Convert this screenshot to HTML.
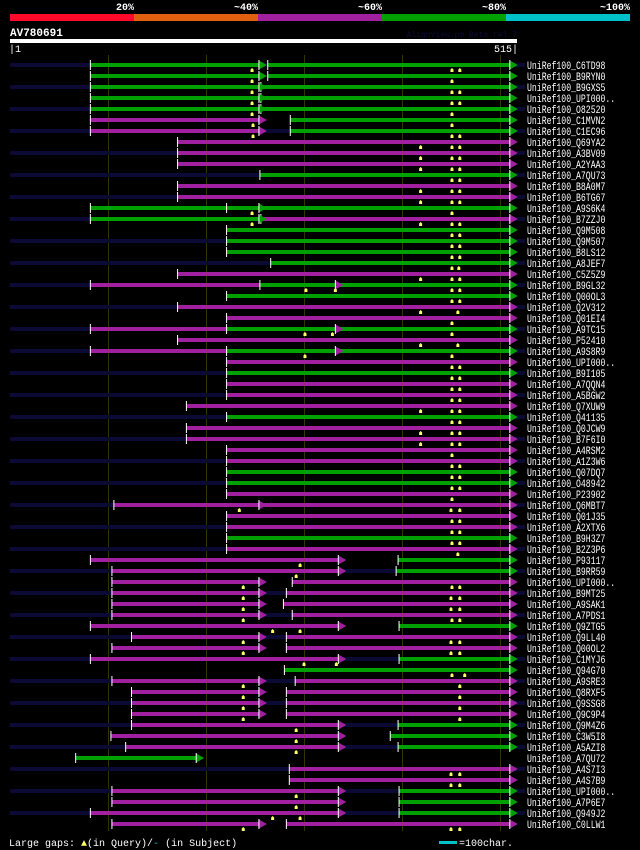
<!DOCTYPE html>
<html><head><meta charset="utf-8"><style>
html,body{margin:0;padding:0;background:#000;}
svg{display:block;}
text{font-family:"Liberation Mono","DejaVu Sans Mono",monospace;fill:#fff;}
</style></head><body>
<svg id="chart" width="640" height="850" viewBox="0 0 640 850" xmlns="http://www.w3.org/2000/svg">
<rect x="0" y="0" width="640" height="850" fill="#000"/>
<g>
<rect x="10" y="14" width="124" height="7" fill="#ff0a2a"/>
<rect x="134" y="14" width="124" height="7" fill="#e06010"/>
<rect x="258" y="14" width="124" height="7" fill="#a020a0"/>
<rect x="382" y="14" width="124" height="7" fill="#00a000"/>
<rect x="506" y="14" width="124" height="7" fill="#00c0c8"/>
<text x="134" y="10" font-size="10" font-weight="bold" text-anchor="end">20%</text>
<text x="258" y="10" font-size="10" font-weight="bold" text-anchor="end">~40%</text>
<text x="382" y="10" font-size="10" font-weight="bold" text-anchor="end">~60%</text>
<text x="506" y="10" font-size="10" font-weight="bold" text-anchor="end">~80%</text>
<text x="630" y="10" font-size="10" font-weight="bold" text-anchor="end">~100%</text>
</g>
<text x="10" y="36" font-size="11" font-weight="bold">AV780691</text>
<text x="517" y="37" font-size="8" text-anchor="end" style="fill:#0c0c38">AlignView.pm Beta rel.7</text>
<rect x="10" y="39" width="507" height="4" fill="#fff"/>
<text x="9" y="52" font-size="10">|1</text>
<text x="518" y="52" font-size="10" text-anchor="end">515|</text>
<g id="grid"></g>
<g id="rows"></g>
<text x="9" y="846" font-size="10">Large gaps: <tspan style="fill:#ffff66">▲</tspan>(in Query)/<tspan style="fill:#00c0c8">-</tspan> (in Subject)</text>
<rect x="439" y="841" width="18" height="3" fill="#00c0c8"/>
<text x="459" y="846" font-size="10">=100char.</text>
</svg>
<script>
var gridTicks = [100, 200, 300, 400, 500];
var names = ["C6TD98","B9RYN0","B9GXS5","UPI000..","O82520","C1MVN2","C1EC96","Q69YA2","A3BV09","A2YAA3","A7QU73","B8A0M7","B6TG67","A9S6K4","B7ZZJ0","Q9M508","Q9M507","B8LS12","A8JEF7","C5Z5Z9","B9GL32","Q00OL3","Q2V312","Q01EI4","A9TC15","P52410","A9S8R9","UPI000..","B9I105","A7QQN4","A5BGW2","Q7XUW9","Q41135","Q0JCW9","B7F6I0","A4RSM2","A1Z3W6","Q07DQ7","O48942","P23902","Q6MBT7","Q01J35","A2XTX6","B9H3Z7","B2Z3P6","P93117","B9RR59","UPI000..","B9MT25","A9SAK1","A7PDS1","Q9ZTG5","Q9LL40","Q00OL2","C1MYJ6","Q94G70","A9SRE3","Q8RXF5","Q9SSG8","Q9C9P4","Q9M4Z6","C3W5I8","A5AZI8","A7QU72","A4S7I3","A4S7B9","UPI000..","A7P6E7","Q949J2","C0LLW1"];
var segs = [
[[82,254,"g",1],[263,510,"g",1]],
[[82,254,"g",1],[263,510,"g",1]],
[[82,254,"g",1],[256,510,"g",1]],
[[82,254,"g",1],[256,510,"g",1]],
[[82,254,"g",1],[256,510,"g",1]],
[[82,254,"p",1],[286,510,"g",1]],
[[82,254,"p",1],[286,510,"g",1]],
[[171,510,"p",1]],[[171,510,"p",1]],[[171,510,"p",1]],
[[255,510,"g",1]],
[[171,510,"p",1]],[[171,510,"p",1]],
[[82,254,"g",1],[221,510,"g",1]],
[[82,254,"g",1],[256,510,"p",1]],
[[221,510,"g",1]],[[221,510,"g",1]],[[221,510,"g",1]],
[[266,510,"g",1]],
[[171,510,"p",1]],
[[82,255,"p",0],[255,510,"g",1]],
[[221,510,"g",1]],
[[171,510,"p",1]],
[[221,510,"p",1]],
[[82,221,"p",0],[221,510,"g",1]],
[[171,510,"p",1]],
[[82,221,"p",0],[221,510,"g",1]],
[[221,510,"p",1]],[[221,510,"g",1]],[[221,510,"p",1]],[[221,510,"p",1]],
[[180,510,"p",1]],
[[221,510,"g",1]],
[[180,510,"p",1]],[[180,510,"p",1]],
[[221,510,"p",1]],[[221,510,"p",1]],[[221,510,"g",1]],[[221,510,"g",1]],[[221,510,"p",1]],
[[106,510,"p",1]],
[[221,510,"p",1]],[[221,510,"p",1]],[[221,510,"g",1]],[[221,510,"p",1]],
[[82,335,"p",1],[396,510,"g",1]],
[[104,335,"p",1],[394,510,"g",1]],
[[104,254,"p",1],[288,510,"p",1]],
[[104,254,"p",1],[282,510,"p",1]],
[[104,254,"p",1],[279,510,"p",1]],
[[104,254,"p",1],[288,510,"p",1]],
[[82,335,"p",1],[397,510,"g",1]],
[[124,254,"p",1],[282,510,"p",1]],
[[104,254,"p",1],[282,510,"p",1]],
[[82,335,"p",1],[397,510,"g",1]],
[[280,510,"g",1]],
[[104,254,"p",1],[291,510,"p",1]],
[[124,254,"p",1],[282,510,"p",1]],
[[124,254,"p",1],[282,510,"p",1]],
[[124,254,"p",1],[282,510,"p",1]],
[[124,335,"p",1],[396,510,"g",1]],
[[103,335,"p",1],[388,510,"g",1]],
[[118,335,"p",1],[396,510,"g",1]],
[[67,190,"g",1]],
[[285,510,"p",1]],[[285,510,"p",1]],
[[104,335,"p",1],[397,510,"g",1]],
[[104,335,"p",1],[397,510,"g",1]],
[[82,335,"p",1],[397,510,"g",1]],
[[104,254,"p",1],[282,510,"p",1]]
];
var extraArrows = {20:[[332,"p"]],24:[[332,"p"]],26:[[332,"p"]],40:[[254,"p"]]};
var marks = [
[247,451,459],[247,451],[247,451,459],[247,451,459],[247,451],[248,451],[248,451,459],
[419,451,459],[419,451,459],[419,451,459],[451,459],[419,451,459],[419,451,459],
[247,451],[247,419,451,459],[451,459],[451,459],[451,459],[451,458],[419,451,459],
[302,332,451,459],[451,459],[419,457],[451],[301,329,451],[419,457],[301,451],
[451,459],[451,459],[451,459],[451,459],[419,451,459],[451,459],
[419,451,459],[419,451,459],[451],[451,459],[451,459],[451,459],[451],
[234,450,459],[451,459],[451,459],[451,459],[457],
[296],[292],[238,451,459],[238,450,459],[238,450,459],[238,451,459],[268,296],
[238,450,459],[238,450,459],[300,333],[451,464],[238,459],[238,459],[238,459],[238,459],
[292],[292],[292],[],[450,459],[450,459],[292],[292],[268,296],[238,450,459]
];
var COL = {g:"#00a000", p:"#a020a0"};
function xs(r){ return 10 + r*0.98; }
function ys(i){ return 65 + i*11; }
var NS = "http://www.w3.org/2000/svg";
function mk(tag, attrs, parent){ var e=document.createElementNS(NS,tag); for(var k in attrs) e.setAttribute(k,attrs[k]); parent.appendChild(e); return e; }
var grid = document.getElementById('grid');
gridTicks.forEach(function(t){
  var l = mk('line',{x1:xs(t)+0.5,x2:xs(t)+0.5,y1:55,y2:831,stroke:"#333300","stroke-width":1},grid);
  
  
});
var rowsG = document.getElementById('rows');
function arrow(g, x, y, c){
  var a = mk('polygon',{points:(x)+","+(y-4.5)+" "+(x+8)+","+y+" "+(x)+","+(y+4.5),fill:c},g);
  
  
  var w = mk('rect',{x:x-0.5,y:y-5,width:1,height:10,fill:"#fff"},g);
  
  
}
names.forEach(function(n,i){
  var y = ys(i);
  var g = mk('g',{},rowsG);
  
  
  if(i%2===0){
    var nv = mk('rect',{x:10,y:y-2,width:515,height:4,fill:"#0a0a35"},g);
    
    
  }
  segs[i].forEach(function(s){
    var b = mk('rect',{x:xs(s[0]),y:y-2,width:xs(s[1])-xs(s[0]),height:4,fill:COL[s[2]]},g);
    
    
    var t = mk('rect',{x:xs(s[0])-0.5,y:y-5,width:1,height:10,fill:"#fff"},g);
    
    
  });
  segs[i].forEach(function(s){ if(s[3]) arrow(g, xs(s[1]), y, COL[s[2]]); });
  (extraArrows[i]||[]).forEach(function(a){ arrow(g, xs(a[0]), y, COL[a[1]]); });
  marks[i].forEach(function(m){
    var mx = xs(m);
    var p = mk('polygon',{points:(mx-1.5)+","+(y+7)+" "+(mx-1.5)+","+(y+4.5)+" "+(mx)+","+(y+3)+" "+(mx+1.5)+","+(y+4.5)+" "+(mx+1.5)+","+(y+7),fill:"#ffff66"},g);
    
    
  });
  var full = "UniRef100_" + n;
  var tl = mk('text',{x:527,y:y+4,"font-size":11,textLength:full.length*4.9,lengthAdjust:"spacingAndGlyphs"},g);
  tl.textContent = full;
  
  
});
</script>
</body></html>
